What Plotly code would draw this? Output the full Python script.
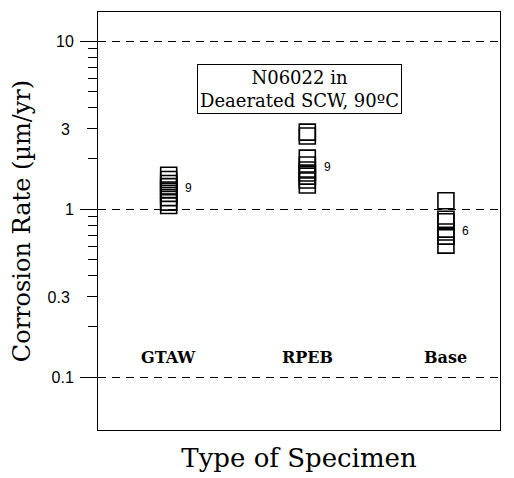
import math
import plotly.graph_objects as go

categories = ["GTAW", "RPEB", "Base"]
cat_pos = [1, 2, 3]
gtaw = [1.59, 1.50, 1.42, 1.36, 1.30, 1.24, 1.17, 1.10, 1.05]
rpeb = [2.87, 2.72, 2.01, 1.83, 1.71, 1.64, 1.57, 1.49, 1.39]
base = [1.12, 0.87, 0.84, 0.73, 0.69, 0.61]
series = [gtaw, rpeb, base]
count_label_y = [1.33, 1.78, 0.74]
cat_label_y = 0.13
half_decade_ticks = [0.3, 3]
half_decade_text = ["0.3", "3"]
decades = [0.1, 1, 10]
decade_text = ["0.1", "1", "10"]
minor_vals = [m * d for d in [0.1, 1] for m in range(2, 10) if m != 3]
box_text = "N06022 in<br>Deaerated SCW, 90ºC"
y_range = [-1.315, 1.173]
x_range = [0.49, 3.39]

serif = "DejaVu Serif"
sans = "Liberation Sans"

fig = go.Figure()
for xp, vals in zip(cat_pos, series):
    fig.add_trace(go.Scatter(
        x=[xp] * len(vals), y=vals, mode="markers",
        marker=dict(symbol="square-open", size=16, color="black",
                    line=dict(width=1.6, color="black")),
        showlegend=False, hoverinfo="y"))

# invisible traces to activate overlay axes
for ax in ["y2", "y3"]:
    fig.add_trace(go.Scatter(x=[cat_pos[0]], y=[1], mode="markers",
                             marker=dict(opacity=0), yaxis=ax,
                             showlegend=False, hoverinfo="skip"))

for xp, vals, ly in zip(cat_pos, series, count_label_y):
    fig.add_annotation(x=xp, y=math.log10(ly), text=str(len(vals)),
                       showarrow=False, xshift=20,
                       font=dict(family=sans, size=12, color="black"))

for xp, name in zip(cat_pos, categories):
    fig.add_annotation(x=xp, y=math.log10(cat_label_y), text="<b>" + name + "</b>",
                       showarrow=False,
                       font=dict(family=serif, size=16, color="black"))

fig.add_annotation(xref="paper", yref="paper", x=0.502, y=0.816,
                   xanchor="center", yanchor="middle",
                   text=box_text, showarrow=False, align="center",
                   bordercolor="black", borderwidth=1, borderpad=2,
                   bgcolor="white",
                   font=dict(family=serif, size=18, color="black"))

fig.update_layout(
    width=506, height=470,
    margin=dict(l=90, r=14, t=4, b=48, autoexpand=False),
    plot_bgcolor="white", paper_bgcolor="white",
    xaxis=dict(range=x_range, showticklabels=False, ticks="", showgrid=False,
               zeroline=False, showline=True, linecolor="black", linewidth=1,
               mirror=True, automargin=False,
               title=dict(text="Type of Specimen", standoff=18,
                          font=dict(family=serif, size=26, color="black"))),
    yaxis=dict(type="log", range=y_range, tickvals=half_decade_ticks,
               ticktext=half_decade_text,
               ticks="outside", ticklen=10, tickwidth=1, tickcolor="black",
               ticklabelstandoff=14, automargin=False,
               tickfont=dict(family=sans, size=16, color="black"),
               showgrid=False, zeroline=False, showline=True, linecolor="black",
               linewidth=1, mirror=True,
               minor=dict(tickvals=minor_vals, ticks="outside", ticklen=9,
                          tickcolor="black", tickwidth=1, showgrid=False),
               title=dict(text="Corrosion Rate (µm/yr)", standoff=13,
                          font=dict(family=serif, size=24, color="black"))),
    yaxis2=dict(type="log", range=y_range, overlaying="y", side="left",
                tickvals=decades, ticktext=decade_text,
                ticks="outside", ticklen=17, tickcolor="black", tickwidth=1,
                ticklabelstandoff=3, automargin=False,
                tickfont=dict(family=sans, size=16, color="black"),
                showgrid=False, zeroline=False, showline=False),
    yaxis3=dict(type="log", range=y_range, overlaying="y", side="left",
                tickvals=decades, showticklabels=False, ticks="inside", ticklen=8,
                tickcolor="black", tickwidth=1, automargin=False,
                showgrid=True, gridcolor="black", gridwidth=1,
                griddash="8px,6px", zeroline=False, showline=False),
)

fig.write_html("out.html")
